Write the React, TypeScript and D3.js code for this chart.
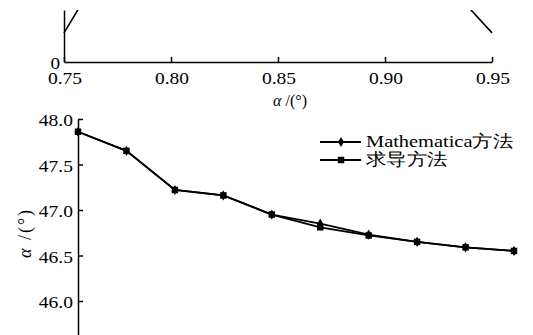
import { useEffect, useRef } from 'react'
import * as d3 from 'd3'

// upper panel (only its bottom strip is visible)
const topTicks = [0.75, 0.8, 0.85, 0.9, 0.95]
const topCurveX = [0.75, 0.76, 0.93, 0.95]
const topCurveY = [1.4, 3.1, 3.65, 1.4]

// lower panel
const samples = [1, 2, 3, 4, 5, 6, 7, 8, 9, 10]
const mathematica = [47.86, 47.65, 47.22, 47.16, 46.95, 46.85, 46.73, 46.65, 46.59, 46.55]
const derivative = [47.86, 47.65, 47.22, 47.16, 46.95, 46.81, 46.72, 46.65, 46.59, 46.55]
const yTicks = [46.0, 46.5, 47.0, 47.5, 48.0]
const seriesNames = ['Mathematica方法', '求导方法']

const FONT = 'Liberation Serif'

const App = () => {
  const svgRef = useRef<SVGSVGElement>(null)

  useEffect(() => {
    const svg = d3.select(svgRef.current)
    svg.selectAll('*').remove()

    // text widened like the scanned figure, via textLength
    const widen = (t: any, k: number) => {
      const node = t.node() as SVGTextElement
      const w = node.getComputedTextLength()
      if (w > 0 && k !== 1) t.attr('textLength', w * k).attr('lengthAdjust', 'spacingAndGlyphs')
      return t
    }

    const label = (g: any, x: number, y: number, txt: string, anchor: string, size: number, k: number) =>
      widen(g.append('text')
        .attr('x', x)
        .attr('y', y)
        .attr('text-anchor', anchor)
        .attr('font-family', FONT)
        .attr('font-size', size)
        .attr('fill', '#000')
        .text(txt), k)

    // ---- upper panel ----
    const xTop = d3.scaleLinear().domain([0.75, 0.95]).range([64, 492])
    const yTop = d3.scaleLinear().domain([0, 2.5]).range([62, 10])

    svg.append('clipPath').attr('id', 'topclip')
      .append('rect').attr('x', 0).attr('y', 10).attr('width', 533).attr('height', 60)

    const top = svg.append('g')

    top.append('g')
      .attr('transform', `translate(0,${yTop(0)})`)
      .call(d3.axisBottom(xTop).tickValues(topTicks).tickSizeInner(-5).tickSizeOuter(0).tickFormat(() => ''))
      .call(g => g.selectAll('path, line').attr('stroke', '#000').attr('stroke-width', 1.5))

    top.append('g')
      .attr('transform', `translate(${xTop(0.75)},0)`)
      .call(d3.axisLeft(yTop).tickValues([]).tickSizeOuter(0))
      .call(g => g.selectAll('path').attr('stroke', '#000').attr('stroke-width', 1.5))

    topTicks.forEach(t => label(top, xTop(t) + 1, 84, d3.format('.2f')(t), 'middle', 16, 1.22))
    label(top, 60, 69, '0', 'end', 16, 1.2)

    const topLine = d3.line<number>()
      .x((_, i) => xTop(topCurveX[i]))
      .y(d => yTop(d))
    top.append('path')
      .datum(topCurveY)
      .attr('clip-path', 'url(#topclip)')
      .attr('fill', 'none')
      .attr('stroke', '#000')
      .attr('stroke-width', 1.6)
      .attr('d', topLine)

    const xl = top.append('text')
      .attr('x', 290).attr('y', 106)
      .attr('text-anchor', 'middle')
      .attr('font-family', FONT)
      .attr('font-size', 16)
    xl.append('tspan').attr('font-style', 'italic').text('α')
    xl.append('tspan').text(' /(°)')

    // ---- lower panel ----
    const x = d3.scaleLinear().domain([1, 10]).range([78, 514])
    const y = d3.scaleLinear().domain([45.6, 48]).range([337.4, 119])

    const bot = svg.append('g')

    bot.append('g')
      .attr('transform', `translate(${x(1)},0)`)
      .call(d3.axisLeft(y).tickValues(yTicks).tickSizeInner(-5).tickSizeOuter(0).tickFormat(() => ''))
      .call(g => g.selectAll('path, line').attr('stroke', '#000').attr('stroke-width', 1.5))

    yTicks.forEach(t => label(bot, 73, y(t) + 7, d3.format('.1f')(t), 'end', 16, 1.22))

    const yl = bot.append('text')
      .attr('transform', 'translate(31,233) rotate(-90)')
      .attr('text-anchor', 'middle')
      .attr('font-family', FONT)
      .attr('font-size', 18)
      .attr('letter-spacing', 2)
    yl.append('tspan').attr('font-style', 'italic').text('α')
    yl.append('tspan').text(' /(°)')

    const line = d3.line<number>()
      .x((_, i) => x(samples[i]))
      .y(d => y(d))

    const diamond = d3.symbol(d3.symbolDiamond, 30)
    const square = d3.symbol(d3.symbolSquare, 42)

    bot.append('path').datum(mathematica)
      .attr('fill', 'none').attr('stroke', '#000').attr('stroke-width', 1.8)
      .attr('d', line)
    bot.selectAll('.dia').data(mathematica).enter()
      .append('path')
      .attr('transform', (d, i) => `translate(${x(samples[i])},${y(d)})`)
      .attr('d', diamond)
      .attr('fill', '#000')

    bot.append('path').datum(derivative)
      .attr('fill', 'none').attr('stroke', '#000').attr('stroke-width', 1.8)
      .attr('d', line)
    bot.selectAll('.sq').data(derivative).enter()
      .append('path')
      .attr('transform', (d, i) => `translate(${x(samples[i])},${y(d)})`)
      .attr('d', square)
      .attr('fill', '#000')

    // legend
    const legend = bot.append('g')
    const markers = [diamond, square]
    seriesNames.forEach((name, i) => {
      const ly = 142 + i * 18
      legend.append('line')
        .attr('x1', 320).attr('x2', 361).attr('y1', ly).attr('y2', ly)
        .attr('stroke', '#000').attr('stroke-width', 1.8)
      legend.append('path')
        .attr('transform', `translate(341,${ly})`)
        .attr('d', markers[i])
        .attr('fill', '#000')
      label(legend, 366, ly + 5, name, 'start', 17, 1.2)
    })
  }, [])

  return (
    <svg
      ref={svgRef}
      width={533}
      height={335}
      style={{ position: 'absolute', left: 0, top: 0, background: '#fff' }}
    />
  )
}

export default App
